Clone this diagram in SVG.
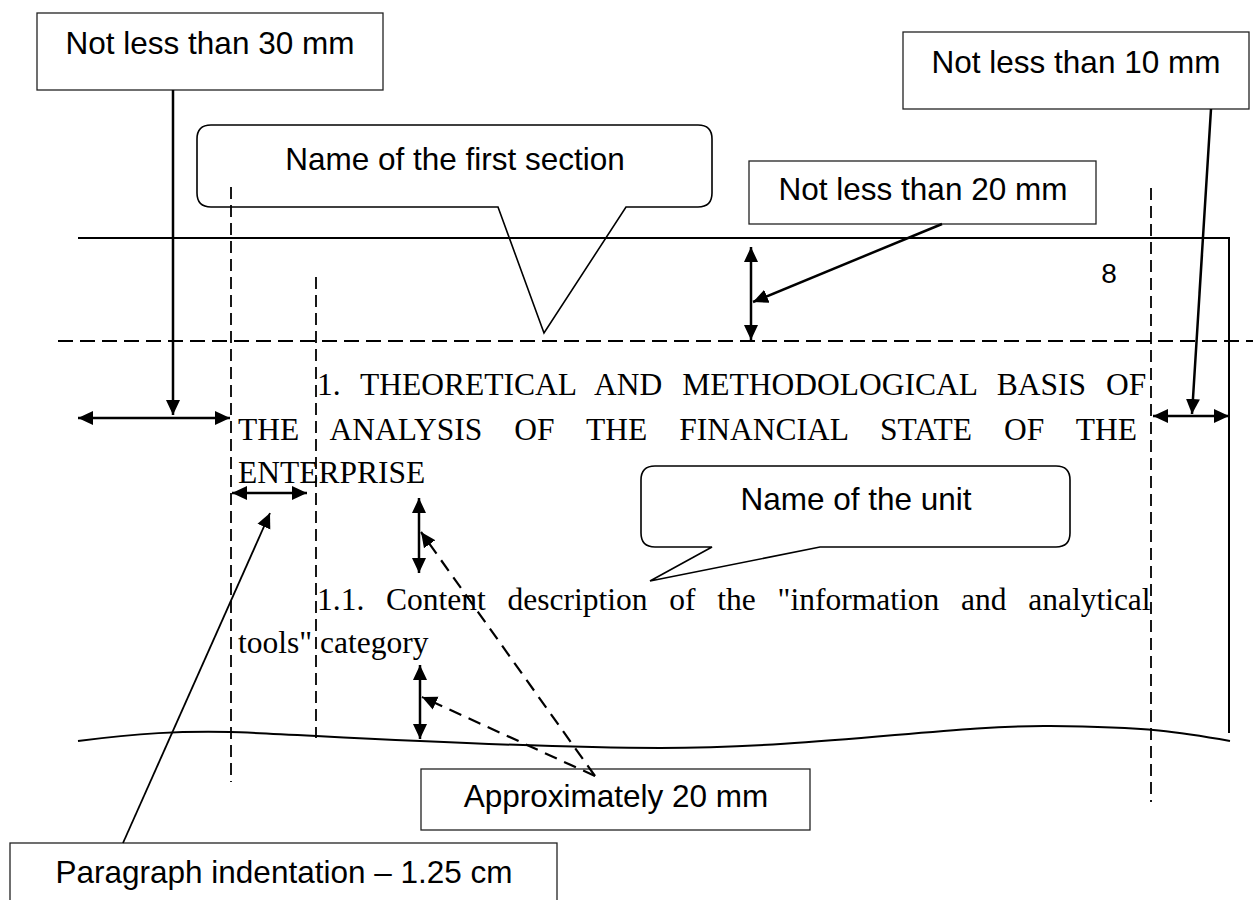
<svg xmlns="http://www.w3.org/2000/svg" width="1253" height="900" viewBox="0 0 1253 900">
<style>
.bg{fill:#fff}
.box{fill:#fff;stroke:#222;stroke-width:1.3}
.call{fill:none;stroke:#000;stroke-width:1.6;stroke-linejoin:miter}
.lbl{font-family:"Liberation Sans",Arial,sans-serif;font-size:31.5px;fill:#000;text-anchor:middle}
.body{font-family:"Liberation Serif","Times New Roman",serif;font-size:31.5px;fill:#000}
.solid{fill:none;stroke:#000;stroke-width:2}
.dashh{fill:none;stroke:#000;stroke-width:2;stroke-dasharray:15 7}
.dashv{fill:none;stroke:#000;stroke-width:1.8;stroke-dasharray:12 6}
.arr{fill:none;stroke:#000;stroke-width:2.5}
.darr{fill:none;stroke:#000;stroke-width:2.2;stroke-dasharray:13 8}
.thin{fill:none;stroke:#000;stroke-width:1.8}
</style>
<defs>
<marker id="ah" markerUnits="userSpaceOnUse" markerWidth="16" markerHeight="16" viewBox="0 0 16 16" refX="15" refY="8" orient="auto-start-reverse">
<path d="M0,1 L15,8 L0,15 Z" fill="#000"/>
</marker>
</defs>
<rect class="bg" x="0" y="0" width="1253" height="900"/>

<g id="page">
<path class="solid" d="M78,238 H1229 V733"/>
<path class="solid" d="M78,741 C140,733 180,731 230,732 S500,748 660,748 S950,725 1050,726 S1180,732 1230,741"/>
<path class="dashh" d="M58,341 H1253"/>
<path class="dashv" d="M231,187 V782"/>
<path class="dashv" d="M316,277 V738"/>
<path class="dashv" d="M1151,188 V802"/>
<text class="lbl" x="1109" y="283" style="font-size:28px">8</text>
</g>

<g id="body-text">
<text class="body" x="317" y="395" word-spacing="12.1">1. THEORETICAL AND METHODOLOGICAL BASIS OF</text>
<text class="body" x="238" y="440" word-spacing="24.2">THE ANALYSIS OF THE FINANCIAL STATE OF THE</text>
<text class="body" x="238" y="483">ENTERPRISE</text>
<text class="body" x="317" y="610" word-spacing="13.9">1.1. Content description of the "information and analytical</text>
<text class="body" x="238" y="653">tools" category</text>
</g>

<g id="box-30mm">
<rect class="box" x="37" y="13" width="346" height="77"/>
<text class="lbl" x="210" y="54">Not less than 30 mm</text>
</g>

<g id="box-10mm">
<rect class="box" x="903" y="32" width="346" height="77"/>
<text class="lbl" x="1076" y="73">Not less than 10 mm</text>
</g>

<g id="box-20mm">
<rect class="box" x="749" y="161" width="347" height="63"/>
<text class="lbl" x="923" y="200">Not less than 20 mm</text>
</g>

<g id="callout-section">
<path class="call" d="M211,125 H698 Q712,125 712,139 V193 Q712,207 698,207 H626 L544,333 L498,207 H211 Q197,207 197,193 V139 Q197,125 211,125 Z"/>
<text class="lbl" x="455" y="170">Name of the first section</text>
</g>

<g id="callout-unit">
<path class="call" d="M655,466 H1056 Q1070,466 1070,480 V533 Q1070,547 1056,547 H820 L650,581 L712,547 H655 Q641,547 641,533 V480 Q641,466 655,466 Z"/>
<text class="lbl" x="856" y="510">Name of the unit</text>
</g>

<g id="box-approx">
<rect class="box" x="421" y="769" width="389" height="61"/>
<text class="lbl" x="616" y="807">Approximately 20 mm</text>
</g>

<g id="box-indent">
<rect class="box" x="10" y="843" width="547" height="70"/>
<text class="lbl" x="284" y="883">Paragraph indentation – 1.25 cm</text>
</g>

<g id="connectors">
<path class="arr" d="M173,90 V415" marker-end="url(#ah)"/>
<path class="arr" d="M78,418 H230" marker-start="url(#ah)" marker-end="url(#ah)"/>
<path class="arr" d="M1211,109 L1192,414" marker-end="url(#ah)"/>
<path class="arr" d="M1153,416 H1229" marker-start="url(#ah)" marker-end="url(#ah)"/>
<path class="arr" d="M942,224 L753,302" marker-end="url(#ah)"/>
<path class="arr" d="M751,247 V340" marker-start="url(#ah)" marker-end="url(#ah)"/>
<path class="arr" d="M232,493 H307" marker-start="url(#ah)" marker-end="url(#ah)"/>
<path class="thin" d="M123,843 L270,513" marker-end="url(#ah)"/>
<path class="arr" d="M419,498 V573" marker-start="url(#ah)" marker-end="url(#ah)"/>
<path class="arr" d="M420,665 V739" marker-start="url(#ah)" marker-end="url(#ah)"/>
<path class="darr" d="M595,776 L421,532" marker-end="url(#ah)"/>
<path class="darr" d="M595,776 L422,697" marker-end="url(#ah)"/>
</g>
</svg>
